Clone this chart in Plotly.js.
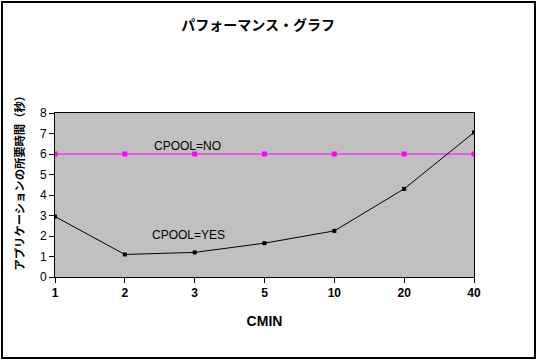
<!DOCTYPE html>
<html><head><meta charset="utf-8">
<script src="https://cdn.plot.ly/plotly-3.0.1.min.js"></script>
<style>html,body{margin:0;padding:0;background:#fff}#chart{width:538px;height:362px}</style>
</head><body><div id="chart"></div>
<script>
const categories = ["1", "2", "3", "5", "10", "20", "40"];
const cpoolYes = [2.95, 1.1, 1.2, 1.65, 2.25, 4.3, 7.05];
const cpoolNo = [6, 6, 6, 6, 6, 6, 6];
const yTicks = [0, 1, 2, 3, 4, 5, 6, 7, 8];

const traces = [
  {x: categories, y: cpoolNo, type: 'scatter', mode: 'lines+markers', name: 'CPOOL=NO',
   line: {color: '#ff00ff', width: 1}, marker: {symbol: 'square', size: 5, color: '#ff00ff'}},
  {x: categories, y: cpoolYes, type: 'scatter', mode: 'lines+markers', name: 'CPOOL=YES',
   line: {color: '#000000', width: 1}, marker: {symbol: 'square', size: 4, color: '#000000'}}
];

const layout = {
  width: 538, height: 362,
  margin: {l: 55, r: 64, t: 113, b: 85},
  paper_bgcolor: '#ffffff', plot_bgcolor: '#c0c0c0',
  showlegend: false,
  font: {family: 'Liberation Sans, Arial, sans-serif', color: '#000', size: 12},
  title: {text: 'パフォーマンス・グラフ', x: 0.48, xanchor: 'center', y: 0.93, yanchor: 'middle',
          font: {family: 'Noto Sans CJK JP', size: 14, weight: 'bold', color: '#000'}},
  xaxis: {type: 'category', range: [0, 6], showgrid: false, zeroline: false,
          showline: true, linecolor: '#000', linewidth: 1, mirror: true,
          ticks: 'outside', ticklen: 5, tickcolor: '#000',
          tickfont: {family: 'Liberation Sans, Arial, sans-serif', size: 12, weight: 'bold'},
          title: {text: 'CMIN', standoff: 16,
                  font: {family: 'Liberation Sans, Arial, sans-serif', size: 14, weight: 'bold'}}},
  yaxis: {range: [0, 8], tickvals: yTicks, showgrid: false, zeroline: false,
          showline: true, linecolor: '#000', linewidth: 1, mirror: true,
          ticks: 'outside', ticklen: 5, tickcolor: '#000',
          tickfont: {family: 'Liberation Sans, Arial, sans-serif', size: 12}},
  annotations: [
    {text: 'アプリケーションの所要時間（秒）', textangle: -90, xref: 'paper', yref: 'paper',
     x: (18 - 55) / 419, y: (277 - 180.5) / 164, xanchor: 'center', yanchor: 'middle',
     showarrow: false, font: {family: 'Noto Sans CJK JP', size: 11.3, weight: 'bold'}},
    {text: 'CPOOL=NO', x: 1.9, y: 6.4, xref: 'x', yref: 'y', showarrow: false,
     xanchor: 'center', yanchor: 'middle', font: {size: 12}},
    {text: 'CPOOL=YES', x: 1.91, y: 2.07, xref: 'x', yref: 'y', showarrow: false,
     xanchor: 'center', yanchor: 'middle', font: {size: 12}}
  ],
  shapes: [
    {type: 'rect', xref: 'paper', yref: 'paper',
     x0: (2 - 55) / 419, x1: (535 - 55) / 419,
     y0: (277 - 358) / 164, y1: (277 - 2) / 164,
     line: {color: '#000', width: 2}, fillcolor: 'rgba(0,0,0,0)', layer: 'below'}
  ]
};

Plotly.newPlot('chart', traces, layout, {displayModeBar: false, staticPlot: true});
</script></body></html>
